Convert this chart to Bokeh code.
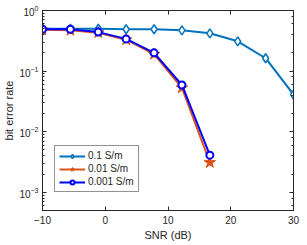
from bokeh.plotting import figure
from bokeh.models import LinearAxis, LogAxis, FixedTicker, Legend, LegendItem, PrintfTickFormatter
from bokeh.embed import file_html
from bokeh.resources import INLINE

snr = [-10, -5.56, -1.11, 3.33, 7.78, 12.22, 16.67, 21.11, 25.56, 30]
ber_01 = [0.50, 0.50, 0.50, 0.49, 0.49, 0.47, 0.42, 0.31, 0.163, 0.041]
snr_short = [-10, -5.56, -1.11, 3.33, 7.78, 12.22, 16.67]
ber_001 = [0.48, 0.47, 0.43, 0.33, 0.19, 0.053, 0.0031]
ber_0001 = [0.49, 0.49, 0.44, 0.34, 0.20, 0.059, 0.0041]
labels = ["0.1 S/m", "0.01 S/m", "0.001 S/m"]

FONT = "Liberation Sans"
AX = "#262626"

p = figure(width=305, height=244, x_range=(-10, 30), y_range=(5e-4, 1),
           y_axis_type="log", output_backend="svg", toolbar_location=None,
           min_border_left=41, min_border_right=12, min_border_top=10, min_border_bottom=34)
p.grid.visible = False
p.outline_line_color = AX
p.outline_line_width = 1

xa = p.xaxis[0]
xa.ticker = FixedTicker(ticks=[-10, 0, 10, 20, 30])
xa.axis_label = "SNR (dB)"
ya = p.yaxis[0]
ya.axis_label = "bit error rate"
for ax in (xa, ya):
    ax.major_tick_in = 4
    ax.major_tick_out = 0
    ax.minor_tick_in = 2
    ax.minor_tick_out = 0
    ax.axis_line_color = AX
    ax.major_tick_line_color = AX
    ax.minor_tick_line_color = AX
    ax.major_label_text_font = FONT
    ax.major_label_text_font_size = "10px"
    ax.major_label_text_color = AX
    ax.axis_label_text_font = FONT
    ax.axis_label_text_font_size = "11px"
    ax.axis_label_text_font_style = "normal"
    ax.axis_label_text_color = AX
    ax.axis_label_standoff = 1
    ax.major_label_standoff = 4
xa.minor_tick_line_color = None
xa.major_label_standoff = 5
xa.axis_label_standoff = 2

top = LinearAxis(ticker=FixedTicker(ticks=[-10, 0, 10, 20, 30]), formatter=PrintfTickFormatter(format=""))
right = LogAxis(formatter=PrintfTickFormatter(format=""))
for ax in (top, right):
    ax.major_tick_in = 4
    ax.major_tick_out = 0
    ax.minor_tick_in = 2
    ax.minor_tick_out = 0
    ax.major_label_text_font_size = "1px"
    ax.major_label_text_color = None
    ax.major_label_standoff = 0
    ax.axis_label_standoff = 0
    ax.axis_line_color = AX
    ax.major_tick_line_color = AX
    ax.minor_tick_line_color = AX
top.minor_tick_line_color = None
p.add_layout(top, "above")
p.add_layout(right, "right")

c1, c2, c3 = "#0072BD", "#D95319", "#0000FF"
l1 = p.line(snr, ber_01, color=c1, line_width=2)
m1 = p.scatter(snr, ber_01, marker="diamond", size=9, line_color=c1, fill_color="white", line_width=1.5)
l2 = p.line(snr_short, ber_001, color=c2, line_width=2)
m2 = p.scatter(snr_short, ber_001, marker="star", size=12, line_color=c2, fill_color=c2, line_width=1)
l3 = p.line(snr_short, ber_0001, color=c3, line_width=2)
m3 = p.scatter(snr_short, ber_0001, marker="circle", size=7, line_color=c3, fill_color="white", line_width=2)

legend = Legend(items=[LegendItem(label=labels[0], renderers=[l1, m1]),
                       LegendItem(label=labels[1], renderers=[l2, m2]),
                       LegendItem(label=labels[2], renderers=[l3, m3])],
                location=(12, 18), label_text_font=FONT, label_text_font_size="10px",
                label_text_color=AX, border_line_color=AX, border_line_width=1,
                glyph_width=26, glyph_height=10, label_height=10, spacing=2,
                padding=4, margin=0, label_standoff=3, background_fill_alpha=1)
p.add_layout(legend, "center")

open("out.html", "w").write(file_html(p, INLINE))
